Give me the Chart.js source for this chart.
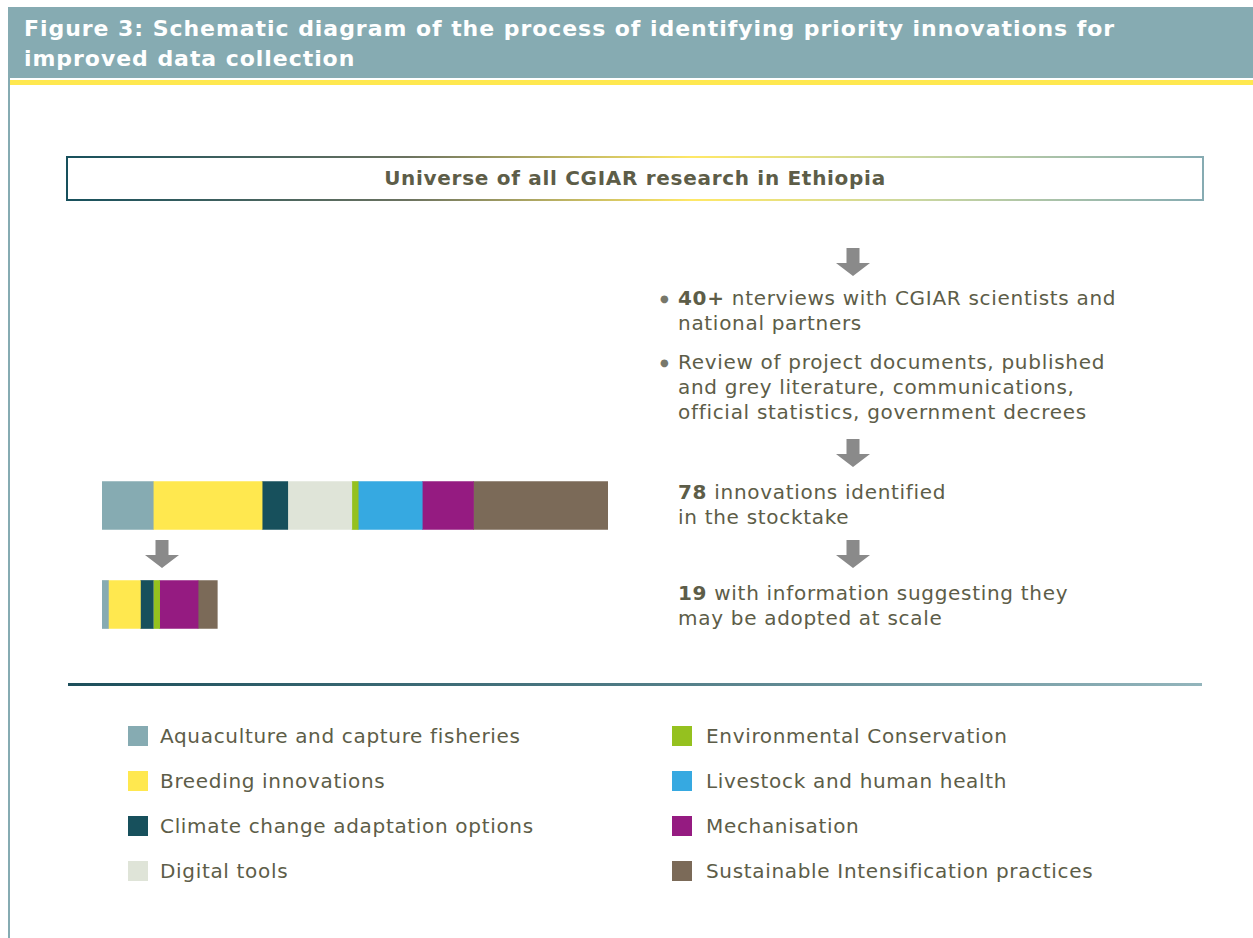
<!DOCTYPE html>
<html lang="en">
<head>
    <meta charset="UTF-8">
    <title>Figure 3: Schematic diagram</title>
    <script src="https://cdn.jsdelivr.net/npm/chart.js"></script>
    <style>
        body {
            margin: 0;
            width: 1253px;
            height: 938px;
            position: relative;
            overflow: hidden;
            background: #fff;
            font-family: 'DejaVu Sans', Verdana, sans-serif;
            color: #5d5d48;
        }

        #header {
            position: absolute;
            left: 8px;
            top: 7px;
            width: 1245px;
            height: 71px;
            background: #86abb2;
            color: #fff;
            font-weight: bold;
            font-size: 22px;
            letter-spacing: 0.95px;
            line-height: 30px;
            box-sizing: border-box;
            padding: 7px 0 0 16px;
            white-space: nowrap;
        }

        #yellowLine {
            position: absolute;
            left: 10px;
            top: 80px;
            width: 1243px;
            height: 5px;
            background: #ffe84f;
        }

        #leftBorder {
            position: absolute;
            left: 8px;
            top: 78px;
            width: 2px;
            height: 860px;
            background: #86abb2;
        }

        #universe {
            position: absolute;
            left: 66px;
            top: 156px;
            width: 1138px;
            height: 45px;
            padding: 2px;
            box-sizing: border-box;
            background: linear-gradient(to right, #17505c 0%, #6b7260 30%, #ffe866 55%, #c9d6a0 75%, #86abb2 100%);
        }

        #universe div {
            background: #fff;
            height: 100%;
            text-align: center;
            font-weight: bold;
            font-size: 20px;
            letter-spacing: 0.7px;
            line-height: 41px;
        }

        .arrow {
            position: absolute;
            width: 34px;
            height: 28px;
        }

        .steps {
            position: absolute;
            left: 678px;
            font-size: 20px;
            letter-spacing: 0.7px;
            line-height: 25px;
            white-space: nowrap;
        }

        .bullet {
            position: absolute;
            left: -18px;
            top: 0;
            font-size: 10px;
            color: #77776a;
        }

        #separator {
            position: absolute;
            left: 68px;
            top: 683px;
            width: 1134px;
            height: 3px;
            background: linear-gradient(to right, #1d4f5b 0%, #4f7b85 50%, #93b5bc 100%);
        }

        #chartBox {
            position: absolute;
            left: 102px;
            top: 456px;
            width: 506px;
            height: 198px;
        }

        .legendItem {
            position: absolute;
            font-size: 20px;
            letter-spacing: 0.67px;
            line-height: 24px;
            white-space: nowrap;
        }

        .legendItem span {
            position: absolute;
            left: 0;
            top: 2px;
            width: 20px;
            height: 20px;
        }
    </style>
</head>
<body>
    <div id="header">Figure 3: Schematic diagram of the process of identifying priority innovations for<br>improved data collection</div>
    <div id="yellowLine"></div>
    <div id="leftBorder"></div>

    <div id="universe"><div>Universe of all CGIAR research in Ethiopia</div></div>

    <div class="steps" style="top: 286px;"><span class="bullet">&#9679;</span><b>40+</b> nterviews with CGIAR scientists and<br>national partners</div>
    <div class="steps" style="top: 350px;"><span class="bullet">&#9679;</span>Review of project documents, published<br>and grey literature, communications,<br>official statistics, government decrees</div>
    <div class="steps" style="top: 480px;"><b>78</b> innovations identified<br>in the stocktake</div>
    <div class="steps" style="top: 581px;"><b>19</b> with information suggesting they<br>may be adopted at scale</div>

    <div id="chartBox"><canvas id="chart" width="506" height="198"></canvas></div>

    <div id="separator"></div>
    <div id="legend"></div>

    <script>
        const categories = [
            'Aquaculture and capture fisheries',
            'Breeding innovations',
            'Climate change adaptation options',
            'Digital tools',
            'Environmental Conservation',
            'Livestock and human health',
            'Mechanisation',
            'Sustainable Intensification practices'
        ];
        const colors = ['#86abb2', '#ffe84f', '#17505c', '#dfe4d8', '#95c11f', '#36a9e1', '#951b81', '#7b6a58'];
        const stages = ['78 innovations identified in the stocktake', '19 with information suggesting they may be adopted at scale'];
        // counts per category
        const stocktake = [8, 17, 4, 10, 1, 10, 8, 21];
        const atScale = [1, 5, 2, 0, 1, 0, 6, 3];

        const total = stocktake.reduce((s, v) => s + v, 0);

        // arrows
        const arrowSvg = '<svg width="34" height="28" viewBox="0 0 34 28"><polygon points="10.5,0 23.5,0 23.5,15 34,15 17,28 0,15 10.5,15" fill="#8a8a8a"/></svg>';
        [[836, 248], [836, 439], [836, 540], [145, 540]].forEach(([x, y]) => {
            const a = document.createElement('div');
            a.className = 'arrow';
            a.style.left = x + 'px';
            a.style.top = y + 'px';
            a.innerHTML = arrowSvg;
            document.body.appendChild(a);
        });

        // legend, two columns
        const legend = document.getElementById('legend');
        categories.forEach((cat, i) => {
            const item = document.createElement('div');
            item.className = 'legendItem';
            const col = Math.floor(i / 4);
            const row = i % 4;
            item.style.left = (col === 0 ? 128 : 672) + 'px';
            item.style.top = (724 + row * 45) + 'px';
            item.style.paddingLeft = (col === 0 ? 32 : 34) + 'px';
            item.innerHTML = '<span style="background:' + colors[i] + '"></span>' + cat;
            legend.appendChild(item);
        });

        new Chart(document.getElementById('chart'), {
            type: 'bar',
            data: {
                labels: stages,
                datasets: categories.map((cat, i) => ({
                    label: cat,
                    data: [stocktake[i], atScale[i]],
                    backgroundColor: colors[i],
                    borderWidth: 0,
                    barThickness: 48
                }))
            },
            options: {
                indexAxis: 'y',
                responsive: false,
                animation: false,
                layout: { padding: 0 },
                plugins: {
                    legend: { display: false },
                    tooltip: { enabled: false }
                },
                scales: {
                    x: { stacked: true, display: false, min: 0, max: total },
                    y: { stacked: true, display: false }
                }
            }
        });
    </script>
</body>
</html>
